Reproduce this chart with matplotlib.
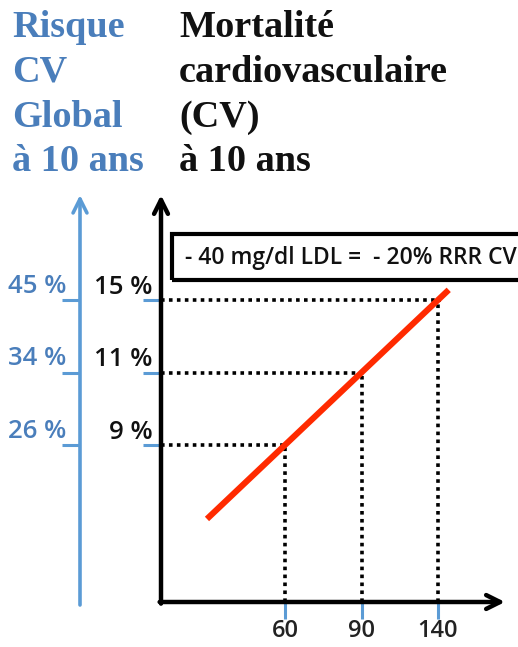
import numpy as np
import matplotlib.pyplot as plt
from matplotlib.patches import Rectangle

ldl_labels = ["60", "90", "140"]          # baisse de LDL (mg/dl)
mort_labels = ["9 %", "11 %", "15 %"]     # mortalité CV à 10 ans
risk_labels = ["26 %", "34 %", "45 %"]    # risque CV global à 10 ans
x_pos = np.arange(len(ldl_labels))
y_pos = np.arange(len(mort_labels))

BLUE_TXT = "#4a7ebb"
BLUE_LINE = "#5b9bd5"
RED = "#ff2a00"
SANS = "Open Sans"

W, H = 518, 647
fig = plt.figure(figsize=(W / 100, H / 100), dpi=100)


def fr(x0, y0, x1, y1):
    # rectangle en pixels (origine en haut à gauche) -> fractions de figure
    return [x0 / W, 1 - y1 / H, (x1 - x0) / W, (y1 - y0) / H]


# échelle en index : x_px = 285 + 76.5*i ; y_px = 445 - 72.5*j
def xi(px):
    return (px - 285) / 76.5


def yj(px):
    return (445 - px) / 72.5


# --- titres
serif = "Liberation Serif"
blue_lines = ["Risque", "CV", "Global", "à 10 ans"]
black_lines = ["Mortalité", "cardiovasculaire", "(CV)", "à 10 ans"]
baselines = [37, 82, 127, 171]
for b, t1, t2 in zip(baselines, blue_lines, black_lines):
    fig.text(12 / W, 1 - b / H, t1, color=BLUE_TXT, fontsize=27.5, fontweight="bold",
             family=serif, va="baseline", ha="left")
    fig.text(179 / W, 1 - b / H, t2, color="#111111", fontsize=27.5, fontweight="bold",
             family=serif, va="baseline", ha="left")

# --- axe principal
ax = fig.add_axes(fr(161, 195, 505, 602))
ax.set_xlim(xi(161), xi(505))
ax.set_ylim(yj(602), yj(195))
for s in ax.spines.values():
    s.set_visible(False)
ax.patch.set_visible(False)

arrow = dict(arrowstyle="->,head_length=1.0,head_width=0.5", lw=3.2, color="black",
             shrinkA=0, shrinkB=0)
ax.annotate("", xy=(0, 1), xytext=(0, -0.004), xycoords="axes fraction", arrowprops=arrow,
            annotation_clip=False)
ax.annotate("", xy=(1, 0), xytext=(-0.004, 0), xycoords="axes fraction", arrowprops=arrow,
            annotation_clip=False)

ax.set_xticks(x_pos)
ax.set_xticklabels(ldl_labels, fontsize=17, family=SANS, fontweight="semibold",
                   color="#222222")
ax.set_yticks(y_pos)
ax.set_yticklabels([])
ax.tick_params(axis="x", direction="out", length=12.5, width=2.2, color=BLUE_LINE, pad=0)
ax.tick_params(axis="y", direction="out", length=13, width=2.2, color=BLUE_LINE)

for j, lab in zip(y_pos, mort_labels):
    ax.annotate(lab, xy=(0, j), xycoords=("axes fraction", "data"), xytext=(-6, 0),
                textcoords="offset points", ha="right", va="bottom", fontsize=18.5,
                family=SANS, fontweight="semibold", color="#111111",
                annotation_clip=False)

# pointillés
x0, y0 = ax.get_xlim()[0], ax.get_ylim()[0]
for i, j in zip(x_pos, y_pos):
    ax.plot([x0, i + 0.04], [j, j], lw=2.6, color="black", dashes=(1.0, 1.2))
    ax.plot([i, i], [y0, j], lw=2.6, color="black", dashes=(1.0, 1.2))

# droite rouge (ajustement linéaire prolongé)
a, b = np.polyfit(x_pos, y_pos, 1)
xx = np.array([-1.02, 2.14])
ax.plot(xx, a * xx + b, color=RED, lw=4.4, solid_capstyle="butt")

# --- axe bleu (risque global)
ax2 = fig.add_axes(fr(80, 195, 100, 605))
ax2.set_ylim(yj(605), yj(195))
ax2.set_xlim(0, 1)
for s in ax2.spines.values():
    s.set_visible(False)
ax2.patch.set_visible(False)
ax2.set_xticks([])
ax2.set_yticks(y_pos)
ax2.set_yticklabels([])
ax2.tick_params(axis="y", direction="out", length=13, width=2.2, color=BLUE_LINE)
ax2.annotate("", xy=(0, 1), xytext=(0, 0), xycoords="axes fraction",
             arrowprops=dict(arrowstyle="->,head_length=1.0,head_width=0.5", lw=2.6,
                             color=BLUE_LINE, shrinkA=0, shrinkB=0),
             annotation_clip=False)
for j, lab in zip(y_pos, risk_labels):
    ax2.annotate(lab, xy=(0, j), xycoords=("axes fraction", "data"), xytext=(-10, 1),
                 textcoords="offset points", ha="right", va="bottom", fontsize=18.5,
                 family=SANS, fontweight="semibold", color=BLUE_TXT,
                 annotation_clip=False)

# --- encadré
fig.patches.append(Rectangle((172 / W, 1 - 280 / H), 400 / W, 46 / H, fill=False,
                             lw=3, edgecolor="black", transform=fig.transFigure,
                             figure=fig))
fig.text(185 / W, 1 - 258 / H, "- 40 mg/dl LDL =  - 20% RRR CV", fontsize=16.5,
         family=SANS, fontweight="semibold", color="#111111", va="center", ha="left")

fig.savefig("out.png", dpi=100)
